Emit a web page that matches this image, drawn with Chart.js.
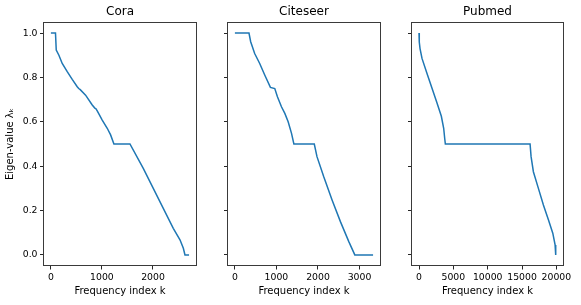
<!DOCTYPE html>
<html>
<head>
<meta charset="utf-8">
<script src="https://cdn.jsdelivr.net/npm/chart.js@4/dist/chart.umd.min.js"></script>
<style>
  html, body { margin: 0; padding: 0; background: #fff; }
  #fig { position: relative; width: 581px; height: 305px; }
  #fig canvas { position: absolute; top: 0; }
</style>
</head>
<body>
<div id="fig">
  <canvas id="cora" width="200" height="305" style="left:0px"></canvas>
  <canvas id="citeseer" width="184" height="305" style="left:200px"></canvas>
  <canvas id="pubmed" width="197" height="305" style="left:384px"></canvas>
</div>
<script>
'use strict';

// ── Data ────────────────────────────────────────────────────
const coraK   = [0, 90, 105, 157, 222, 320, 418, 516, 545, 575, 680, 810, 860, 880, 908, 1006, 1104, 1170, 1235, 1549, 1810, 2006, 2202, 2398, 2529, 2595, 2627, 2707];
const coraLam = [1.0, 1.0, 0.923, 0.90, 0.863, 0.826, 0.791, 0.758, 0.75, 0.745, 0.72, 0.676, 0.662, 0.66, 0.649, 0.608, 0.571, 0.541, 0.5, 0.5, 0.39, 0.30, 0.21, 0.12, 0.068, 0.030, 0.0, 0.0];

const citeK   = [0, 339, 380, 476, 597, 718, 855, 960, 1024, 1121, 1202, 1282, 1363, 1420, 1911, 1976, 2137, 2339, 2540, 2742, 2887, 3326];
const citeLam = [1.0, 1.0, 0.961, 0.908, 0.863, 0.811, 0.755, 0.75, 0.713, 0.668, 0.638, 0.60, 0.548, 0.5, 0.5, 0.443, 0.353, 0.248, 0.150, 0.060, 0.0, 0.0];

const pubK   = [0, 40, 150, 437, 1165, 1894, 2622, 3253, 3593, 3739, 3836, 16169, 16315, 16650, 17380, 18108, 18837, 19475, 19811, 19900];
const pubLam = [1.0, 0.96, 0.93, 0.886, 0.818, 0.751, 0.685, 0.625, 0.571, 0.526, 0.5, 0.5, 0.443, 0.375, 0.30, 0.225, 0.158, 0.098, 0.045, 0.0];

const yTicks     = [0.0, 0.2, 0.4, 0.6, 0.8, 1.0];
const coraTicks  = [0, 1000, 2000];
const citeTicks  = [0, 1000, 2000, 3000];
const pubTicks   = [0, 5000, 10000, 15000, 20000];

const FONT = 'DejaVu Sans';
const INK  = '#262626';

// matplotlib-style closed frame around the axes
const framePlugin = {
  id: 'frame',
  afterDraw(chart) {
    const { ctx, chartArea: a } = chart;
    ctx.save();
    ctx.strokeStyle = '#3a3a3a';
    ctx.lineWidth = 1;
    ctx.strokeRect(Math.round(a.left) - 0.5, Math.round(a.top) + 0.5,
                   Math.round(a.right - a.left) + 1, Math.round(a.bottom - a.top) - 1);
    ctx.restore();
  }
};

function makePanel(id, title, ks, lams, xTicks, xMin, xMax, opts = {}) {
  const { yWidth = 28, padRight = 4, showY = false } = opts;
  const points = ks.map((k, i) => ({ x: k, y: lams[i] }));

  new Chart(document.getElementById(id).getContext('2d'), {
    type: 'line',
    data: {
      datasets: [{
        data: points,
        borderColor: '#1f77b4',
        borderWidth: 1.5,
        pointRadius: 0,
        tension: 0,
        fill: false
      }]
    },
    plugins: [framePlugin],
    options: {
      responsive: false,
      animation: false,
      devicePixelRatio: 1,
      layout: { padding: { right: padRight, left: 0, top: 0, bottom: 0 } },
      plugins: {
        legend: { display: false },
        tooltip: { enabled: false },
        title: {
          display: true,
          fullSize: false,
          text: title,
          color: '#000',
          font: { family: FONT, size: 12, weight: 'normal' },
          padding: { top: 4.5, bottom: 3.1 }
        }
      },
      scales: {
        x: {
          type: 'linear',
          min: xMin,
          max: xMax,
          afterBuildTicks: s => { s.ticks = xTicks.map(v => ({ value: v })); },
          afterFit: s => { s.height = 39; },
          border: { display: false },
          grid: { display: true, drawOnChartArea: false, drawTicks: true, tickLength: 3.5, color: INK },
          ticks: {
            color: '#000',
            autoSkip: false,
            maxRotation: 0,
            padding: 2.5,
            font: { family: FONT, size: 9.3 },
            callback: v => String(v)
          },
          title: {
            display: true,
            text: 'Frequency index k',
            color: '#000',
            font: { family: FONT, size: 10 },
            padding: { top: 0, bottom: 7.5 }
          }
        },
        y: {
          type: 'linear',
          min: -0.05,
          max: 1.05,
          afterBuildTicks: s => { s.ticks = yTicks.map(v => ({ value: v })); },
          afterFit: s => { s.width = yWidth; },
          border: { display: false },
          grid: { display: true, drawOnChartArea: false, drawTicks: true, tickLength: 4, color: INK },
          ticks: {
            color: '#000',
            padding: 2.5,
            font: { family: FONT, size: 9.3 },
            callback: v => showY ? v.toFixed(1) : ''
          },
          title: {
            display: showY,
            text: 'Eigen-value λₖ',
            color: '#000',
            font: { family: FONT, size: 10 },
            padding: { top: 4, bottom: 0 }
          }
        }
      }
    }
  });
}

makePanel('cora', 'Cora', coraK, coraLam, coraTicks, -135, 2843, { yWidth: 44, padRight: 4, showY: true });
makePanel('citeseer', 'Citeseer', citeK, citeLam, citeTicks, -166, 3493, { yWidth: 28, padRight: 4 });
makePanel('pubmed', 'Pubmed', pubK, pubLam, pubTicks, -1019, 20961, { yWidth: 28, padRight: 18 });
</script>
</body>
</html>
